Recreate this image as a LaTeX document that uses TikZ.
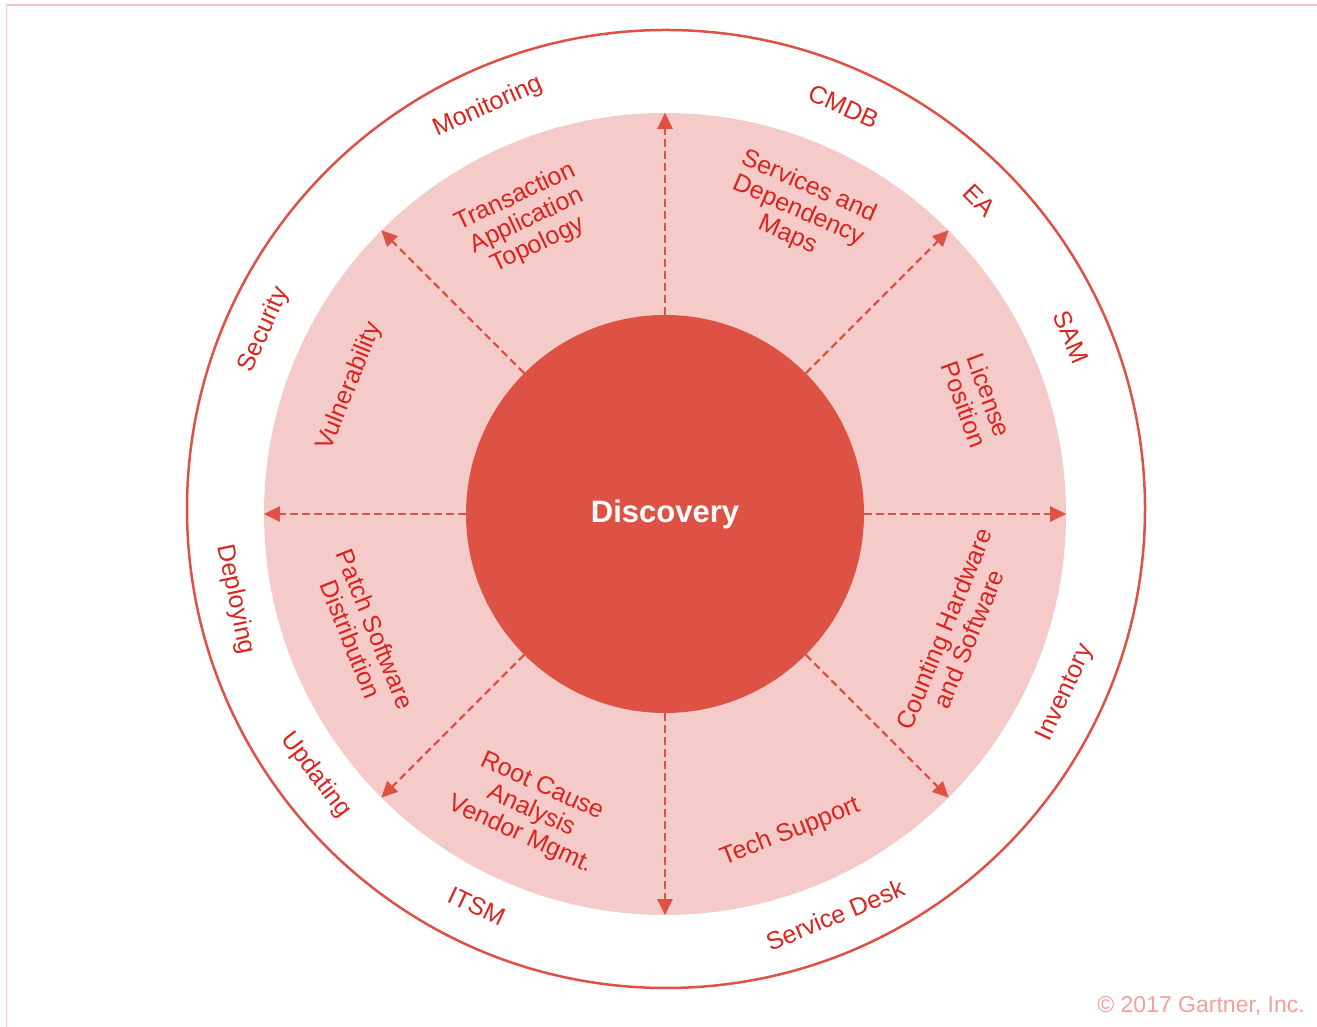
\documentclass[tikz,border=0pt]{standalone}
\usepackage{fontspec}
\setmainfont{Liberation Sans}
\usetikzlibrary{arrows.meta, positioning}
\definecolor{corered}{RGB}{222,82,69}
\definecolor{pinkfill}{RGB}{244,203,200}
\definecolor{labred}{RGB}{218,36,30}
\definecolor{copyred}{RGB}{242,160,152}
\definecolor{framepink}{RGB}{250,196,196}
\tikzstyle{core} = [circle, 
			fill=corered, 
			text=white, 
			inner sep=0pt, 
			minimum size=398pt, 
			font=\fontsize{31}{31}\selectfont\bfseries]
\tikzstyle{disk} = [circle, 
			fill=pinkfill, 
			inner sep=0pt, 
			minimum size=802pt]
\tikzstyle{ring} = [circle, 
			draw=corered, 
			line width=2.5pt, 
			inner sep=0pt, 
			minimum size=958pt]
\tikzstyle{spoke} = [draw=corered, 
			line width=2.2pt, 
			dash pattern=on 7.5pt off 4.5pt, 
			-{Triangle[length=16pt, width=15pt]}]
\tikzstyle{outlabel} = [text=labred, 
			inner sep=0pt, 
			font=\fontsize{25}{27}\selectfont]
\tikzstyle{seclabel} = [text=labred, 
			align=center, 
			inner sep=0pt, 
			font=\fontsize{25}{26.5}\selectfont]
\begin{document}
\begin{tikzpicture}[x=1pt, y=1pt]
	\useasboundingbox (0,0) rectangle (1317,1027);
	\draw [framepink, line width=1.5pt] (6.5,0) |- (1317,1022);
	\coordinate (c) at (665,513);
	\coordinate (co) at (666,518);
	\node [ring] (outer) at (co) {};
	\node [disk] (pink) at (c) {};
	\node [core] (discovery) at (c) {Discovery};
	\foreach \a in {0,45,...,315}
		\draw [spoke] (discovery.\a) -- (pink.\a);
	\foreach \ang/\rot/\txt [count=\i] in {113.9/23.9/Monitoring, 66.2/-23.8/CMDB,
			44.6/-45.4/EA, 23/-67/SAM, -24.7/65.3/Inventory, -67.4/22.6/Service Desk,
			-115.5/-25.5/ITSM, -142.8/-52.8/Updating, -168.1/-78.1/Deploying, 156/66/Security}
		\node [outlabel, rotate=\rot] (out\i) at ([shift={(\ang:440)}]co) {\txt};
	\foreach \ang/\rad/\rot/\txt [count=\i] in {
			115.3/324/25.3/{Transaction\\Application\\Topology},
			66.3/331/-23.7/{Services and\\Dependency\\Maps},
			20.1/332/-69.9/{License\\Position},
			-22.4/315/67.6/{Counting Hardware\\and Software},
			-68.5/342/21.5/{Tech Support},
			-114.3/326/-24.3/{Root Cause\\Analysis\\Vendor Mgmt.},
			-158.3/325/-68.3/{Patch Software\\Distribution},
			158/340/68/{Vulnerability}}
		\node [seclabel, rotate=\rot] (sec\i) at ([shift={(\ang:\rad)}]c) {\txt};
	\node [text=copyred, anchor=base east, inner sep=0pt, font=\fontsize{23}{23}\selectfont] (copy) at (1305,14) {\textcopyright\ 2017 Gartner, Inc.};
\end{tikzpicture}
\end{document}
